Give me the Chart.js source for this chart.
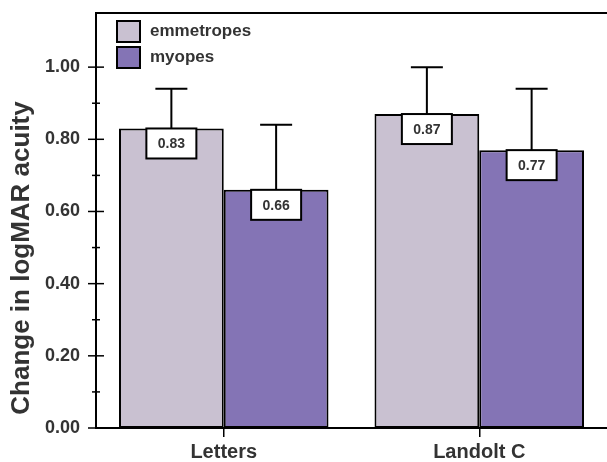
<!DOCTYPE html>
<html>
<head>
<meta charset="utf-8">
<script src="https://cdn.jsdelivr.net/npm/chart.js@4"></script>
<style>
html,body{margin:0;padding:0;background:#fff;}
#wrap{width:607px;height:462px;}
</style>
</head>
<body>
<div id="wrap"><canvas id="c" width="607" height="462"></canvas></div>
<script>
const categories = ['Letters', 'Landolt C'];
const seriesNames = ['emmetropes', 'myopes'];
const emmetropes = [0.83, 0.87];
const myopes = [0.66, 0.77];
const emmetropesErr = [0.11, 0.13];
const myopesErr = [0.18, 0.17];
const yTitle = 'Change in logMAR acuity';

const FONT = "'Liberation Sans', Arial, sans-serif";
const TXT = '#333333';

const extras = {
  id: 'extras',
  afterDatasetsDraw(chart) {
    const ctx = chart.ctx;
    const y = chart.scales.y;
    const area = chart.chartArea;
    ctx.save();
    // top frame line
    ctx.strokeStyle = '#000';
    ctx.lineWidth = 2;
    ctx.beginPath();
    ctx.moveTo(area.left, area.top);
    ctx.lineTo(chart.width, area.top);
    ctx.stroke();
    // y ticks crossing the axis
    y.ticks.forEach(t => {
      const v = t.value;
      const r = Math.round(v * 10);
      if (Math.abs(v * 10 - r) > 1e-6) return;
      const py = y.getPixelForValue(v);
      const half = (r % 2 === 0) ? 8 : 4;
      ctx.lineWidth = 1.5;
      ctx.beginPath();
      ctx.moveTo(area.left - half, py);
      ctx.lineTo(area.left + half, py);
      ctx.stroke();
    });
    // error bars and value labels
    chart.data.datasets.forEach((ds, di) => {
      const meta = chart.getDatasetMeta(di);
      meta.data.forEach((bar, i) => {
        const val = ds.data[i];
        const top = y.getPixelForValue(val + ds.errors[i]);
        const base = y.getPixelForValue(val);
        ctx.strokeStyle = '#000';
        ctx.lineWidth = 2;
        ctx.beginPath();
        ctx.moveTo(bar.x, base);
        ctx.lineTo(bar.x, top);
        ctx.moveTo(bar.x - 16, top);
        ctx.lineTo(bar.x + 16, top);
        ctx.stroke();
        // label box
        const bw = 50, bh = 30;
        ctx.fillStyle = '#fff';
        ctx.fillRect(bar.x - bw / 2, base, bw, bh);
        ctx.strokeRect(bar.x - bw / 2, base, bw, bh);
        ctx.fillStyle = TXT;
        ctx.font = 'bold 14px ' + FONT;
        ctx.textAlign = 'center';
        ctx.textBaseline = 'middle';
        ctx.fillText(val.toFixed(2), bar.x, base + bh / 2 + 1);
      });
    });
    // legend
    chart.data.datasets.forEach((ds, di) => {
      const bx = 117, by = 21 + di * 26;
      ctx.fillStyle = ds.backgroundColor;
      ctx.fillRect(bx, by, 23, 21);
      ctx.strokeStyle = '#000';
      ctx.lineWidth = 2;
      ctx.strokeRect(bx, by, 23, 21);
      ctx.fillStyle = TXT;
      ctx.font = 'bold 17px ' + FONT;
      ctx.textAlign = 'left';
      ctx.textBaseline = 'middle';
      ctx.fillText(ds.label, 150, by + 10.5);
    });
    // y title
    ctx.save();
    ctx.translate(22, 258);
    ctx.rotate(-Math.PI / 2);
    ctx.fillStyle = TXT;
    ctx.font = 'bold 26px ' + FONT;
    ctx.textAlign = 'center';
    ctx.textBaseline = 'middle';
    ctx.fillText(yTitle, 0, 0);
    ctx.restore();
    ctx.restore();
  }
};

new Chart(document.getElementById('c'), {
  type: 'bar',
  data: {
    labels: categories,
    datasets: [
      { label: seriesNames[0], data: emmetropes, errors: emmetropesErr,
        backgroundColor: '#c9c1d1', borderColor: '#000', borderWidth: 2, borderSkipped: false },
      { label: seriesNames[1], data: myopes, errors: myopesErr,
        backgroundColor: '#8474b5', borderColor: '#000', borderWidth: 2, borderSkipped: false }
    ]
  },
  options: {
    responsive: false,
    animation: false,
    devicePixelRatio: 1,
    layout: { padding: { top: 13, right: 0, bottom: 0, left: 0 } },
    datasets: { bar: { categoryPercentage: 0.82, barPercentage: 1.0 } },
    plugins: { legend: { display: false }, tooltip: { enabled: false } },
    scales: {
      x: {
        offset: true,
        afterFit(s) { s.height = 34; s.paddingLeft = 0; s.paddingRight = 0; },
        grid: { offset: false, drawOnChartArea: false, color: '#000', lineWidth: 1.5, tickLength: 9 },
        border: { display: true, color: '#000', width: 2 },
        ticks: { color: TXT, padding: 3, font: { family: FONT, size: 20, weight: 'bold' } }
      },
      y: {
        min: 0, max: 1.15,
        afterFit(s) { s.width = 96; s.paddingTop = 0; s.paddingBottom = 0; },
        grid: { display: false, drawTicks: false },
        border: { display: true, color: '#000', width: 2 },
        ticks: {
          stepSize: 0.1, padding: 16, color: TXT,
          font: { family: FONT, size: 18, weight: 'bold' },
          callback(v) {
            const r = Math.round(v * 10);
            if (Math.abs(v * 10 - r) > 1e-6) return '';
            return (r % 2 === 0 && r <= 10) ? v.toFixed(2) : '';
          }
        }
      }
    }
  },
  plugins: [extras]
});
</script>
</body>
</html>
